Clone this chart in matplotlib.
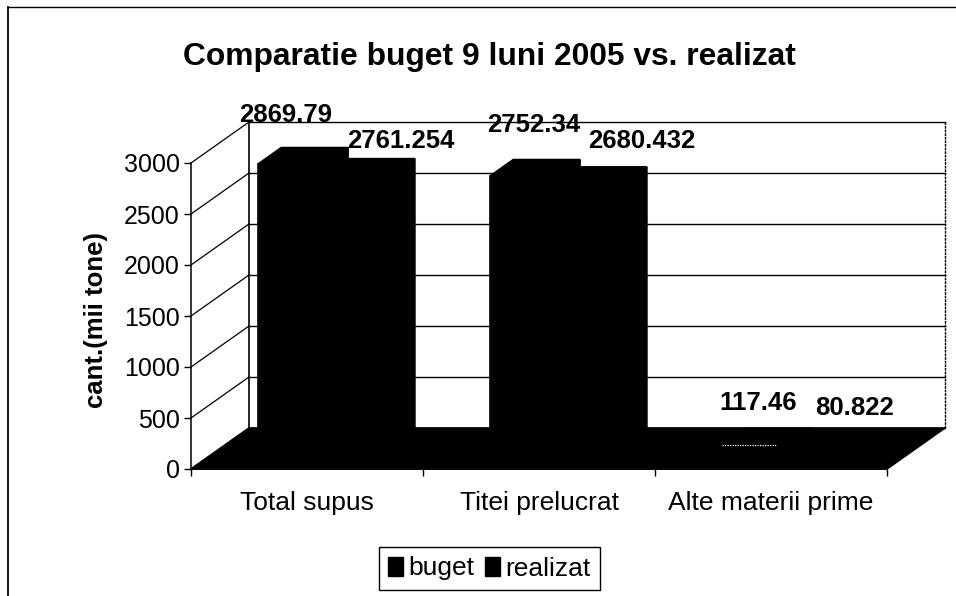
import matplotlib
matplotlib.use("Agg")
import matplotlib.pyplot as plt
from matplotlib.patches import Polygon, Patch
from matplotlib.lines import Line2D

plt.rcParams['font.family'] = ['Liberation Sans', 'DejaVu Sans']

title = "Comparatie buget 9 luni 2005 vs. realizat"
categories = ["Total supus", "Titei prelucrat", "Alte materii prime"]
buget = [2869.79, 2752.34, 117.46]
realizat = [2761.254, 2680.432, 80.822]
buget_labels = ["2869.79", "2752.34", "117.46"]
realizat_labels = ["2761.254", "2680.432", "80.822"]
y_ticks = [0, 500, 1000, 1500, 2000, 2500, 3000]
series_names = ["buget", "realizat"]

W, H = 956, 596
DX, DY = 0.25, 402        # depth shear of the 3-D box, in data units
D0, D1 = 0.30, 0.70       # bar depth span
BAR_START, BAR_W = 0.214, 0.288
buget_off = [(-17, 41), (-1, 43), (-9, 34)]
realizat_off = [(31, 26), (40, 34), (21, 32)]

fig = plt.figure(figsize=(W / 100, H / 100), dpi=100, facecolor='white')
ax = fig.add_axes([191 / W, 1 - 469 / H, 696 / W, 306 / H])
ax.set_xlim(0, 3)
ax.set_ylim(0, 3000)
ax.patch.set_visible(False)


def P(x, v, d=0.0):
    return (x + DX * d, v + DY * d)


def line(pts, lw=1.0, color='black', z=1, **kw):
    xs, ys = zip(*pts)
    ax.add_line(Line2D(xs, ys, lw=lw, color=color, zorder=z, clip_on=False, **kw))


# walls
for v in y_ticks:
    line([P(0, v, 1), P(3, v, 1)], lw=1.0)
    line([P(0, v, 0), P(0, v, 1)], lw=0.9)
line([P(0, 0, 1), P(0, 3000, 1)], lw=1.2)
line([P(3, 0, 1), P(3, 3000, 1)], lw=1.0, linestyle=(0, (2, 0.6)))


def poly(pts, z=3):
    ax.add_patch(Polygon(pts, closed=True, fc='black', ec='black', lw=1.2,
                         zorder=z, clip_on=False, joinstyle='miter'))


# floor
poly([P(0, 0, 0), P(3, 0, 0), P(3, 0, 1), P(0, 0, 1)], z=2)


def bar(x0, x1, v):
    poly([P(x0, 0, D0), P(x1, 0, D0), P(x1, v, D0), P(x0, v, D0)])
    poly([P(x0, v, D0), P(x1, v, D0), P(x1, v, D1), P(x0, v, D1)])
    poly([P(x1, 0, D0), P(x1, 0, D1), P(x1, v, D1), P(x1, v, D0)])


for i in range(len(categories)):
    x0 = i + BAR_START
    bar(x0, x0 + BAR_W, buget[i])
    bar(x0 + BAR_W, x0 + 2 * BAR_W, realizat[i])
    for vals, labs, offs, xs in ((buget, buget_labels, buget_off, x0 + BAR_W / 2),
                                 (realizat, realizat_labels, realizat_off, x0 + 1.5 * BAR_W)):
        ax.annotate(labs[i], P(xs, vals[i], 0.5), xytext=offs[i],
                    textcoords='offset pixels', ha='center', va='center',
                    fontsize=18.5, fontweight='bold', zorder=6, annotation_clip=False)

# faint top-front edge of the small bar
line([P(2 + BAR_START, buget[2], D0), P(2 + BAR_START + BAR_W * 0.8, buget[2], D0)],
     lw=0.9, color='white', z=5, linestyle=(0, (1, 1)))

# axes
for s in ('top', 'right'):
    ax.spines[s].set_visible(False)
for s in ('left', 'bottom'):
    ax.spines[s].set_linewidth(1.1)
    ax.spines[s].set_zorder(4)
ax.set_yticks(y_ticks)
ax.set_xticks([0, 1, 2, 3])
ax.set_xticklabels([])
ax.set_xticks([0.5, 1.5, 2.5], labels=categories, minor=True)
ax.tick_params(axis='y', length=5, width=1, labelsize=18, pad=3)
ax.tick_params(axis='x', which='major', length=5, width=1)
ax.tick_params(axis='x', which='minor', length=0, labelsize=19, pad=15.5)
ax.set_ylabel("cant.(mii tone)", fontsize=18.5, fontweight='bold')
ax.yaxis.set_label_coords((108 - 191) / 696, (469 - 320) / 306)

fig.text(489 / W, 1 - 57 / H, title, fontsize=22.9, fontweight='bold',
         ha='center', va='center')

# chart-area border (top and left only)
fig.add_artist(Line2D([8 / W, 8 / W], [0, 1 - 7 / H], color='black', lw=1.3))
fig.add_artist(Line2D([8 / W, 1], [1 - 7 / H, 1 - 7 / H], color='black', lw=1.0))

# legend
handles = [Patch(fc='black', ec='black', label=n) for n in series_names]
fig.legend(handles=handles, loc='center', bbox_to_anchor=(489.5 / W, 1 - 568.5 / H),
           ncol=2, fontsize=19, frameon=True, fancybox=False, framealpha=1,
           edgecolor='black', handlelength=0.58, handleheight=0.72,
           handletextpad=0.2, columnspacing=0.4, borderpad=0.36, borderaxespad=0)

fig.savefig("out.png", dpi=100)
